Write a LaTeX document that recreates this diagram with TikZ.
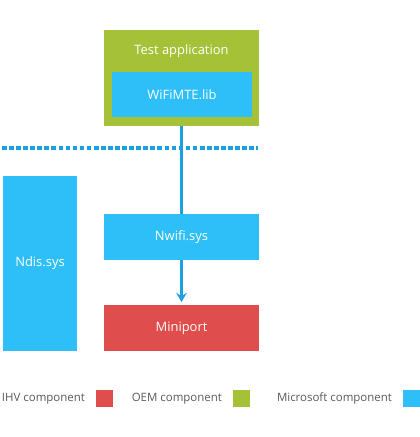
\documentclass[tikz,border=0pt]{standalone}
\usepackage{fontspec}
\setmainfont{Open Sans}
\usetikzlibrary{arrows.meta,positioning}
\definecolor{msblue}{HTML}{2EBFF9}
\definecolor{oemgreen}{HTML}{A4C137}
\definecolor{ihvred}{HTML}{DF4D4D}
\definecolor{linkblue}{HTML}{1BA1E2}
\definecolor{legendgray}{HTML}{595959}

\begin{document}
\begin{tikzpicture}[x=0.75pt,y=-0.75pt]
\tikzstyle{every node}+=[inner sep=0pt]
\tikzstyle{comp}=[text=white,font=\fontsize{9.7}{11}\selectfont]
\tikzstyle{key}=[minimum width=12.5pt,minimum height=12.5pt]
\tikzstyle{keytext}=[text=legendgray,font=\fontsize{8.6}{10}\selectfont]
\useasboundingbox (0,0) rectangle (420,437);
% components
\node [comp,fill=oemgreen,minimum width=116.25pt,minimum height=72pt] (app) at (181.5,78) {};
\node [comp] (apptext) at (181.5,51) {Test application};
\node [comp,fill=msblue,minimum width=105pt,minimum height=33.75pt] (lib) at (182,94.5) {WiFiMTE.lib};
\node [comp,fill=msblue,minimum width=55.5pt,minimum height=131.25pt] (ndis) at (40,263.5) {Ndis.sys};
\node [comp,fill=msblue,minimum width=116.25pt,minimum height=34.5pt] (nwifi) at (181.5,237) {Nwifi.sys};
\node [comp,fill=ihvred,minimum width=116.25pt,minimum height=34.5pt] (miniport) at (181.5,328) {Miniport};
% user/kernel boundary
\coordinate (sepleft) at (2,148);
\coordinate (sepright) at (258,148);
\draw [linkblue,line width=3pt,dash pattern=on 3.5pt off 1.8pt] (sepleft) -- (sepright);
% connectors
\draw [linkblue,line width=2.2pt] (app.south) -- (nwifi.north);
\draw [linkblue,line width=2.2pt,-{Stealth[length=7pt,width=8pt,inset=2.5pt]},shorten >=2pt] (nwifi.south) -- (miniport.north);
% legend
\node [key,fill=ihvred] (keyihv) at (104.5,398.5) {};
\node [keytext,left=8pt of keyihv] {IHV component};
\node [key,fill=oemgreen] (keyoem) at (241.5,398.5) {};
\node [keytext,left=8pt of keyoem] {OEM component};
\node [key,fill=msblue] (keyms) at (411.5,398.5) {};
\node [keytext,left=8pt of keyms] {Microsoft component};
\end{tikzpicture}
\end{document}
